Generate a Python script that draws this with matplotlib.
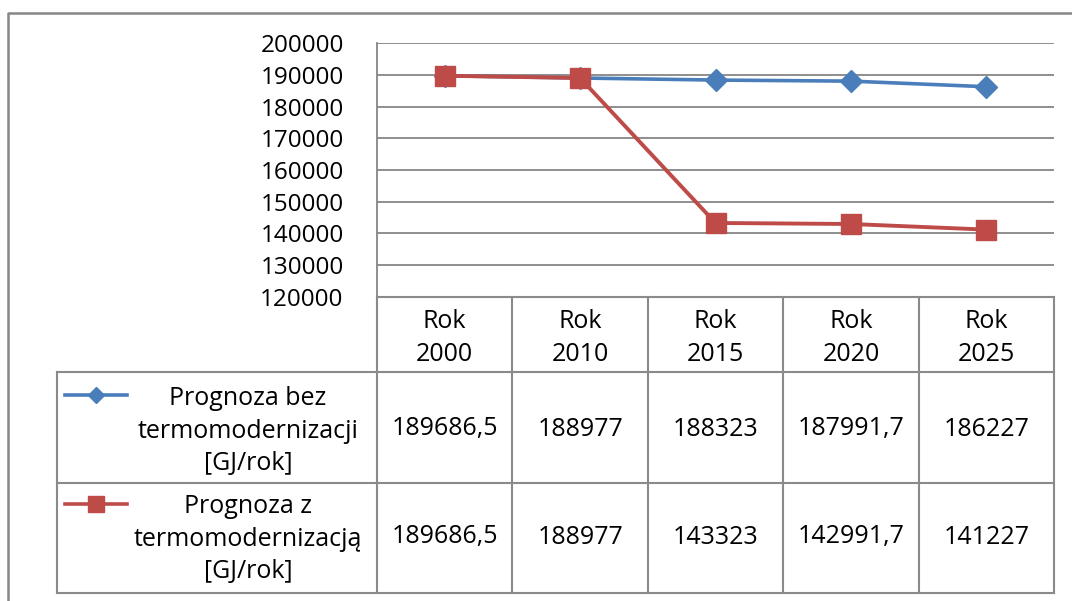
import matplotlib
matplotlib.use("Agg")
import matplotlib.pyplot as plt
from matplotlib.lines import Line2D

# dane
years = ["Rok\n2000", "Rok\n2010", "Rok\n2015", "Rok\n2020", "Rok\n2025"]
bez = [189686.5, 188977, 188323, 187991.7, 186227]
z_termo = [189686.5, 188977, 143323, 142991.7, 141227]
series_labels = ["Prognoza bez\ntermomodernizacji\n[GJ/rok]",
                 "Prognoza z\ntermomodernizacją\n[GJ/rok]"]
y_ticks = list(range(120000, 200001, 10000))

BLUE = "#4A7EBB"
RED = "#BE4B48"
GRID = "#868686"
FS = 18

plt.rcParams['font.family'] = ['Open Sans', 'DejaVu Sans']

W, H = 1072, 601
fig = plt.figure(figsize=(W / 100, H / 100), dpi=100)

# obszar wykresu (piksele)
left, right, top, bottom = 377, 1054, 43, 297
ax = fig.add_axes([left / W, 1 - bottom / H, (right - left) / W, (bottom - top) / H])

x = list(range(len(years)))
ax.plot(x, bez, color=BLUE, lw=2.6, marker='D', ms=11, mec=BLUE, zorder=3)
ax.plot(x, z_termo, color=RED, lw=2.8, marker='s', ms=15, mec=RED, zorder=3)

ax.set_xlim(-0.5, len(years) - 0.5)
ax.set_ylim(y_ticks[0], y_ticks[-1])
ax.set_yticks(y_ticks)
ax.set_yticklabels([str(t) for t in y_ticks], fontsize=FS - 0.5)
ax.set_xticks([])
ax.tick_params(axis='y', length=0, pad=24)
ax.yaxis.grid(True, color=GRID, lw=1.3)
for s in ['top', 'right', 'bottom']:
    ax.spines[s].set_visible(False)
ax.spines['left'].set_color(GRID)
ax.spines['left'].set_linewidth(1.3)

# nakladka w pikselach na tabele danych
ov = fig.add_axes([0, 0, 1, 1])
ov.set_xlim(0, W)
ov.set_ylim(H, 0)
ov.axis('off')

fig.canvas.draw()
# granice kolumn z osi wykresu
col_edges = [ax.transData.transform((i - 0.5, 0))[0] for i in range(len(years) + 1)]
col_centers = [ax.transData.transform((i, 0))[0] for i in x]

leg_left = 57
rows = [297, 372, 483, 593]
lc = "#8a8a8a"
lw = 1.5

# linie tabeli
ov.plot([col_edges[0], col_edges[-1]], [rows[0], rows[0]], color=lc, lw=lw)
for yy in rows[1:]:
    ov.plot([leg_left, col_edges[-1]], [yy, yy], color=lc, lw=lw)
for xx in col_edges:
    ov.plot([xx, xx], [rows[0], rows[-1]], color=lc, lw=lw)
ov.plot([leg_left, leg_left], [rows[1], rows[-1]], color=lc, lw=lw)

# naglowki
for cx, lab in zip(col_centers, years):
    ov.text(cx, 338, lab, ha='center', va='center',
            fontsize=FS, linespacing=1.4)


def fmt(v):
    return ("%.1f" % v).rstrip('0').rstrip('.').replace('.', ',')


row_y = [429, 537]
sym_y = [395, 504]
for vals, ry, sy, col, mk, ms, lab in zip([bez, z_termo], row_y, sym_y,
                                          [BLUE, RED], ['D', 's'], [8, 12],
                                          series_labels):
    for cx, v in zip(col_centers, vals):
        ov.text(cx, ry, fmt(v), ha='center', va='center', fontsize=FS)
    ov.add_line(Line2D([65, 127], [sy, sy], color=col, lw=2.6))
    ov.plot([96], [sy], marker=mk, ms=ms, color=col, mec=col)
    ov.text(248, ry + 2, lab, ha='center', va='center', fontsize=FS,
            linespacing=1.38)

# ramka wykresu
ov.plot([7.5, 7.5, W], [H, 12.5, 12.5], color="#878787", lw=1.8,
        solid_capstyle='butt')

fig.savefig("out.png", dpi=100)
